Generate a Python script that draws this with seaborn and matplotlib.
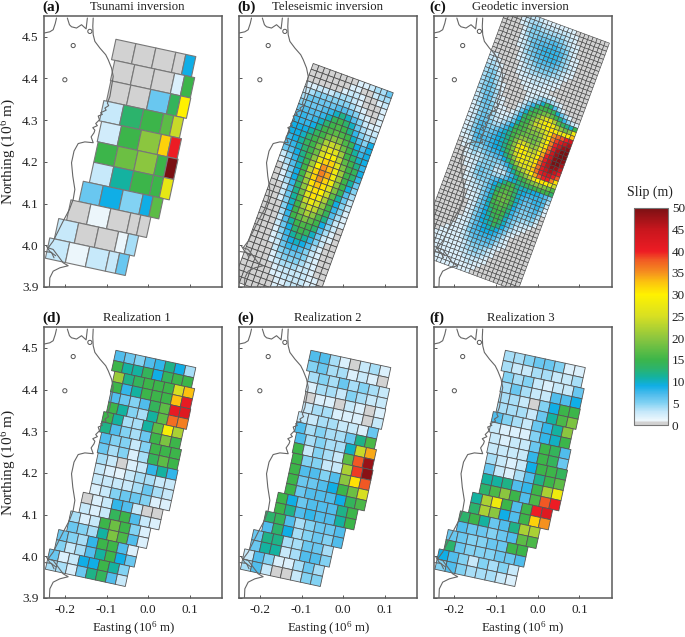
import numpy as np
import matplotlib
matplotlib.use("Agg")
import matplotlib.pyplot as plt
from matplotlib.collections import PolyCollection
from matplotlib.colors import LinearSegmentedColormap, Normalize
from matplotlib.cm import ScalarMappable
import seaborn as sns

titles = ["Tsunami inversion", "Teleseismic inversion", "Geodetic inversion",
          "Realization 1", "Realization 2", "Realization 3"]
letters = ["(a)", "(b)", "(c)", "(d)", "(e)", "(f)"]
x_ticks = [-0.2, -0.1, 0.0, 0.1]
y_ticks = [3.9, 4.0, 4.1, 4.2, 4.3, 4.4, 4.5]
cbar_ticks = list(range(0, 51, 5))

slip_a = [[0,0,0,0,9],[0,0,0,2,15],[0,0,6,14,30],[3,13,15,17,24],[2.5,15,20,32,40],
          [15,18,20,15,50],[3,11,15,15,27],[6,9,5,9,17],[0,1,0,0,0],[3,0,0,1,4],[3,1,3,3,6]]

slip_d = [[7,6,5,7,8,12,9,4],[15,11,11,14,9,14,15,15],[21,12,14,15,15,15,25,33],[15,8,11,15,15,15,33,41],
          [7,6,5,7,14,17,41,42],[15,11,5,4,11,17,37,36],[15,11,4,4,11,17,29,22],[12,7,5,4,6,15,19,15],
          [7,5,5,3,5,15,15,15],[6,4,5,2,4,14,17,15],[4,3,0,2,3,8,11,8],[3,2,1.5,3,4,4,3,3],
          [3,3,3,3,4,6,4,3],[2,3,5,6,6,5,2,2],[0,2,3,8,7,3,0,0],[3,2,3,14,15,7,3,2],
          [4,2,3,15,18,15,5,2],[6,5,4,11,19,16,7,2],[6,5,4,8,15,15,7,2],[5,3,4,7,11,15,9,6],
          [6,2,3,9,9,15,11,5],[4,4,2,6,12,14,7,3]]

slip_e = [[7,7,4,2,0,3,4,2],[5,6,4,4,2,3,2,0],[4,5,4,6,4,5,4,3],[2,4,4,3,5,4,3,3],
          [0,2,2,0,3,2,0,2],[3,4,4,2,2,2,0,3],[3,3,4,4,3,3,2,6],[7,4,5,4,4,6,12,16],
          [7,4,5,4,4,10,24,34],[15,3,5,4,3,17,38,48],[15,5,5,3,3,22,39,49],[15,7,7,5,7,20,31,38],
          [15,6,6,7,9,15,18,25],[15,6,7,7,7,9,14,16],[15,9,6,7,7,7,12,15],[15,12,7,8,7,7,11,15],
          [13,14,7,4,5,6,6,7],[7,13,9,4,5,6,5,7],[6,12,12,4,4,6,6,4],[6,11,11,3,4,7,7,5],
          [3,7,5,2,2,4,6,4],[4,7,3,0,0,3,5,5]]

slip_f = [[4,4,5,6,6,5,2,2],[4,3,3,4,4,3,3,4],[5,4,5,3,2,3,3,6],[4,6,4,3,3,7,7,9],
          [4,4,3,0,5,9,15,15],[4,4,4,3,6,11,16,19],[7,5,4,3,6,8,11,20],[3,2,2,2,5,8,10,15],
          [3,2,3,3,6,15,14,7],[3,3,3,3,8,15,14,6],[4,3,2,3,9,15,15,14],[6,3,2,4,7,12,15,17],
          [11,11,12,7,8,15,22,28],[13,16,20,15,7,16,38,40],[11,22,28,15,7,15,40,42],[13,22,20,9,7,15,32,35],
          [13,15,11,6,7,12,22,22],[7,6,6,5,6,7,17,16],[6,6,5,5,6,6,15,15],[13,6,5,5,5,6,6,7],
          [9,7,5,3,5,4,5,3],[5,7,5,4,4,4,3,2]]

slip_b = [[0,0,0,0,0,0,0,0,2,2,3,4,4,6],[0,0,0,0,0,0,0,2,2,0,0,3,4,4],[0,0,0,0,0,0,2,3,3,2,0,0,2,3],
          [2,2,3,3,3,4,4,4,3,2,0,0,0,2],[3,4,5,5,5,5,5,5,4,3,2,0,0,2],[4,6,6,6,6,6,7,7,6,5,3,2,0,2],
          [5,6,6,6,7,8,10,12,10,7,5,3,2,2],[6,7,7,7,8,10,14,15,13,10,6,4,3,3],[7,8,7,8,10,13,15,16,15,12,8,5,4,4],
          [8,8,8,9,12,15,16,17,16,15,10,7,5,9],[9,9,9,11,14,15,18,20,19,16,14,9,7,9],[9,9,10,13,15,17,22,24,23,18,15,11,8,9],
          [8,9,11,14,15,19,24,27,26,21,15,13,10,9],[7,8,10,13,15,18,25,29,29,23,17,15,12,8],[6,7,9,12,15,20,27,32,32,26,19,15,14,9],
          [3,5,8,11,15,21,30,35,33,28,21,15,13,8],[2,4,7,10,15,23,32,36,34,28,21,15,11,6],[0,3,6,9,15,22,32,35,32,28,20,15,9,5],
          [0,2,5,9,14,21,31,33,31,26,19,14,7,4],[0,2,4,8,13,20,28,31,30,24,17,11,6,3],[0,0,3,7,12,18,26,31,28,22,15,9,5,3],
          [0,0,3,6,11,16,24,28,25,20,15,8,5,2],[0,0,2,5,10,15,21,25,23,18,14,7,4,2],[0,0,0,5,9,15,19,22,20,16,12,6,3,2],
          [0,0,0,4,8,15,17,19,17,15,9,5,3,0],[0,0,0,3,7,11,15,16,15,13,7,4,2,0],[0,0,0,3,6,9,13,15,14,10,6,3,2,0],
          [0,0,0,2,5,8,11,13,11,8,5,3,0,0],[0,0,0,2,4,7,9,10,9,7,4,2,0,0],[0,0,0,2,3,6,8,8,7,5,3,2,0,0],
          [0,0,0,0,3,5,6,6,6,5,3,2,0,0],[0,0,0,0,2,4,5,5,5,4,3,2,0,0],[0,0,0,0,2,3,4,4,4,3,3,2,0,0],
          [0,0,0,0,0,2,3,3,3,3,3,2,2,0],[0,0,0,0,0,2,2,3,3,3,3,2,2,0],[0,0,0,0,0,0,2,2,3,3,3,2,2,2],
          [0,0,0,0,0,0,2,2,2,3,3,2,2,2],[0,0,0,0,0,0,0,2,2,2,2,2,2,2]]

slip_c = [[0,0,0,0,2,3,3,3,3,2,2,2,2,2,2,2,2],[0,0,0,0,2,3,4,4,4,3,3,3,3,3,3,3,2,2],
[0,0,0,0,2,3,4,5,5,4,4,4,4,4,4,3,3,2],[0,0,0,0,0,2,4,5,5,5,5,5,5,5,5,4,3,2,2],
[0,0,0,0,0,2,4,5,5,6,6,6,7,7,6,5,4,3,2],[0,0,0,0,0,2,3,5,6,6,7,7,7,8,7,6,5,3,2],
[0,0,0,0,0,2,3,4,6,7,7,8,8,8,8,7,5,4,2,2],[0,0,0,0,0,2,3,4,5,6,7,8,8,8,8,7,5,4,2,2],
[0,0,0,0,0,0,2,4,5,6,7,7,8,8,8,7,5,4,3,2],[0,0,0,0,0,0,2,3,4,5,6,7,7,7,7,6,5,4,3,2],
[0,0,0,0,0,0,2,3,4,4,5,6,6,6,6,5,4,3,2,2],[2,2,0,0,0,0,0,2,3,4,4,5,5,5,5,4,4,3,2],
[3,3,2,0,0,0,0,2,3,3,4,4,4,4,4,3,3,2],[3,4,3,2,0,0,0,2,2,3,3,3,3,3,3,3,2,2],
[4,4,4,2,0,0,0,0,2,2,2,3,3,3,2,2,2],[4,5,5,3,2,0,0,0,0,2,2,2,2,2,2,2],
[4,5,5,4,2,0,0,0,0,0,2,2,2,2,2,2,2,2],[4,5,6,4,3,2,0,0,0,0,0,2,2,3,4,5,5,4,3,2],
[4,5,6,5,3,2,0,0,0,0,0,2,3,4,6,10,14,12,7,4,2],[4,5,6,5,4,2,0,0,0,0,0,3,5,8,12,15,15,15,14,10,6,4,2],
[3,5,6,6,4,2,2,0,0,0,2,4,7,12,15,16,18,19,17,15,12,8,5,3,2],[3,4,6,6,4,3,2,0,0,0,3,6,10,15,16,19,23,26,27,22,17,14,12,10,15],
[3,4,6,6,5,3,2,2,0,2,4,8,13,15,18,22,26,29,30,28,23,20,18,20,28],[2,4,5,6,5,3,2,2,2,3,5,9,14,15,19,24,25,27,30,31,29,27,28,30,33],
[2,3,5,6,5,4,3,2,3,4,6,11,15,16,19,21,21,23,26,31,35,37,38,40,43],[2,3,5,6,6,4,3,3,4,6,9,14,15,16,18,19,19,21,25,31,36,39,42,45,47],
[2,3,5,6,6,5,4,4,6,8,11,15,16,17,18,18,18,19,24,30,36,40,45,48,49],[2,3,5,7,7,5,5,6,8,10,12,15,17,20,20,19,18,20,25,31,37,42,47,50,50],
[2,3,5,7,7,6,6,7,9,10,12,15,19,24,25,23,20,21,27,33,38,44,48,50,50],[2,3,5,7,7,6,7,8,9,10,12,15,20,27,30,28,23,23,29,34,40,45,49,50,49],
[2,3,4,7,8,7,7,8,9,10,12,15,19,26,30,29,26,25,30,36,41,46,50,50,47],[2,2,3,6,7,6,7,8,9,9,11,14,18,24,29,29,27,26,31,37,42,46,49,48,44],
[0,2,3,5,6,5,6,7,8,8,9,12,15,20,26,28,27,27,32,37,42,45,47,45,41],[0,2,2,4,5,4,5,6,6,7,7,9,12,16,21,25,26,27,33,37,41,43,44,41,38],
[0,0,2,3,4,3,4,5,5,5,5,6,8,11,15,19,22,25,30,34,38,40,40,36,31],[0,0,2,2,3,3,4,5,5,5,4,4,5,8,11,15,17,20,23,27,30,31,30,27,24],
[0,0,0,2,2,3,5,5,5,5,3,3,3,6,8,11,14,15,17,19,20,20,19,18,16],[0,0,0,2,2,3,5,6,5,5,4,4,5,7,9,10,12,13,14,14,15,15,15,15,13],
[0,0,0,0,2,3,5,6,5,5,6,7,9,12,15,15,12,10,10,10,9,9,8,7,5],[0,0,0,0,2,3,4,5,5,5,7,9,12,15,16,16,13,10,9,8,8,8,8,7,4],
[0,0,0,0,2,2,3,4,4,5,7,10,14,16,17,16,13,10,8,7,7,8,8,7,3],[0,0,0,0,0,2,3,3,4,5,7,10,15,17,18,17,14,10,8,6,6,7,8,6,2],
[0,0,0,0,0,2,2,3,3,5,7,10,15,17,18,17,14,10,7,6,6,6,7,5,2],[0,0,0,0,0,0,2,2,3,5,7,10,15,16,17,16,13,9,7,5,5,6,6,4],
[0,0,0,0,0,0,2,2,3,5,7,10,14,15,16,15,12,8,6,5,5,5,5,3],[0,0,0,0,0,0,0,2,3,5,7,9,12,15,15,15,11,8,6,5,4,4,4,2],
[0,0,0,0,0,0,0,2,3,5,7,9,11,14,15,14,10,7,5,4,3,3,2],[0,0,0,0,0,0,0,2,3,5,7,9,10,12,15,13,10,7,5,3,3,2],
[0,0,0,0,0,0,0,2,3,5,7,9,10,11,14,12,9,6,4,3,2],[0,0,0,0,0,0,2,2,3,5,7,8,9,10,11,9,7,5,3,2],
[0,0,0,0,0,0,2,2,3,5,7,8,9,9,9,8,6,4,2],[0,0,0,0,0,2,2,2,3,5,7,7,8,8,8,7,5,3,2],
[0,0,0,0,2,2,2,2,3,4,6,7,7,7,7,6,4,3,2],[0,0,0,2,2,2,2,2,3,4,5,6,6,6,6,5,3,2],
[0,0,2,2,2,2,2,2,2,3,4,5,5,5,4,3,2],[0,0,2,2,2,2,2,2,2,3,4,4,5,4,4,3,2],
[0,0,2,2,2,2,2,2,2,3,3,4,4,4,3,2],[0,2,2,2,2,2,2,2,2,2,3,3,3,3,2,2],
[0,2,2,2,2,2,2,2,2,2,2,3,3,2,2],[0,0,2,2,2,2,2,2,2,2,2,2,2,2],[0,0,0,2,2,2,2,2,2,2,2,2,2]]

coast_x = [[-0.220,-0.223,-0.228,-0.236,-0.250],
           [-0.194,-0.189,-0.184,-0.172,-0.160,-0.149,-0.146],
           [-0.132,-0.133,-0.132,-0.128,-0.116,-0.102,-0.096,-0.088,-0.084,-0.088,-0.092,-0.098,-0.095,-0.104,-0.101,-0.114,-0.110,-0.120,-0.117,-0.126,-0.122,-0.133,-0.128,-0.130,-0.137,-0.132,-0.152,-0.168,-0.178,-0.184,-0.181,-0.176,-0.180,-0.189,-0.204,-0.216,-0.228,-0.240,-0.228,-0.216,-0.204,-0.192,-0.212,-0.228,-0.236,-0.237],
           [-0.244,-0.236,-0.222],[-0.248,-0.232,-0.226]]
coast_y = [[4.545,4.532,4.517,4.512,4.509],
           [4.545,4.529,4.524,4.521,4.529,4.519,4.545],
           [4.545,4.525,4.505,4.489,4.473,4.457,4.445,4.425,4.405,4.381,4.357,4.341,4.335,4.329,4.324,4.318,4.314,4.310,4.301,4.292,4.287,4.282,4.276,4.270,4.260,4.246,4.248,4.244,4.226,4.198,4.166,4.134,4.110,4.086,4.058,4.034,4.010,3.994,3.990,3.974,3.958,3.951,3.946,3.938,3.922,3.900],
           [3.998,3.985,3.975],[3.985,3.983,3.970]]
island_x = [-0.180, -0.200, -0.140]
island_y = [4.479, 4.397, 4.513]

row_offsets = [0, .008, .0092, .0028, .008, .0104, .0104, -.0045, -.024, -.0432, -.0544]

cmap_stops = [(0, "#d2d2d2"), (0.6, "#d2d2d2"), (1, "#eef8fd"), (3, "#c6e8fa"), (5, "#82d2f3"),
              (7, "#4fbcec"), (9, "#10aee6"), (11, "#14b29f"), (13, "#2cb36c"), (15, "#3cb54a"),
              (20, "#8cc63f"), (25, "#d7df23"), (30, "#fff200"), (33, "#fcc10f"), (35, "#f5921e"),
              (38, "#f15a24"), (40, "#ed1c24"), (45, "#c8161d"), (50, "#7a1013")]
cmap = LinearSegmentedColormap.from_list("slip", [(v / 50, c) for v, c in cmap_stops], N=512)
norm = Normalize(0, 50)

sns.set_theme(style="ticks")
plt.rcParams["font.family"] = ["Liberation Serif", "DejaVu Serif"]
plt.rcParams["mathtext.default"] = "regular"
plt.rcParams["mathtext.fontset"] = "custom"
plt.rcParams["mathtext.rm"] = "Liberation Serif"
W, H = 685, 637
fig = plt.figure(figsize=(W / 100, H / 100), dpi=100, facecolor="white")


def fault(ax, values, origin, theta, col_widths, row_height, offsets, edge, lw):
    """Draw one fault plane: rows of cells stepping along strike from origin."""
    t = np.radians(theta)
    u = np.array([np.cos(t), -np.sin(t)])
    v = np.array([-np.sin(t), -np.cos(t)])
    polys, vals = [], []
    for r, row in enumerate(values):
        off = offsets[r] if offsets is not None else 0.0
        left = 0.0
        for c, w in enumerate(col_widths):
            val = row[c] if c < len(row) else 0
            p0 = np.array(origin) + u * (off + left) + v * r * row_height
            polys.append([p0, p0 + u * w, p0 + u * w + v * row_height, p0 + v * row_height])
            vals.append(val)
            left += w
    pc = PolyCollection(polys, array=np.array(vals, float), cmap=cmap, norm=norm,
                        edgecolors=edge, linewidths=lw, zorder=2)
    ax.add_collection(pc)


fine_offsets = [o for o in row_offsets for _ in range(2)]
origin_big = (-0.0775, 4.494)
panels = [
    dict(values=slip_a, origin=origin_big, theta=12.2, col_widths=[.049, .049, .049, .0245, .0245],
         row_height=.0499, offsets=row_offsets, edge="#777777", lw=0.8),
    dict(values=slip_b, origin=(-0.072, 4.436), theta=20.1, col_widths=[.0146] * 14,
         row_height=.0146, offsets=None, edge="#4a4a4a", lw=0.55),
    dict(values=slip_c, origin=(-0.072, 4.575), theta=20.3, col_widths=[.0104] * 25,
         row_height=.0104, offsets=None, edge="#444444", lw=0.42),
    dict(values=slip_d, origin=origin_big, theta=12.2, col_widths=[.0245] * 8,
         row_height=.02495, offsets=fine_offsets, edge="#555555", lw=0.6),
    dict(values=slip_e, origin=origin_big, theta=12.2, col_widths=[.0245] * 8,
         row_height=.02495, offsets=fine_offsets, edge="#555555", lw=0.6),
    dict(values=slip_f, origin=origin_big, theta=12.2, col_widths=[.0245] * 8,
         row_height=.02495, offsets=fine_offsets, edge="#555555", lw=0.6),
]
lefts = [44, 239, 433.5]
tops = [16, 327]
aw, ah = 178, 271
for i, p in enumerate(panels):
    col, row = i % 3, i // 3
    ax = fig.add_axes([lefts[col] / W, 1 - (tops[row] + ah) / H, aw / W, ah / H])
    ax.set_facecolor("white")
    ax.set_xlim(-0.25, -0.25 + aw / 417)
    ax.set_ylim(3.9, 3.9 + ah / 417)
    fault(ax, **p)
    for cx, cy in zip(coast_x, coast_y):
        sns.lineplot(x=cx, y=cy, sort=False, estimator=None, color="#666666", lw=0.8, ax=ax, zorder=3)
    sns.scatterplot(x=island_x, y=island_y, s=9, facecolor="none", edgecolor="#555555", linewidth=0.7, ax=ax, zorder=3)
    ax.set_xticks(x_ticks)
    ax.set_yticks(y_ticks)
    ax.tick_params(direction="in", length=2.5, width=0.7, color="#555555", labelsize=9.5, pad=4,
                   labelleft=col == 0, labelbottom=row == 1, labelcolor="#222222")
    if row == 1:
        ax.set_xticklabels([f"{t:.1f}" for t in x_ticks])
    for s in ax.spines.values():
        s.set_color("#5a5a5a")
        s.set_linewidth(1.1)
    ax.set_xlabel("")
    ax.set_ylabel("")
    fig.text((lefts[col] + aw / 2 + 4 * (col == 0) - 2 * (col == 2)) / W, 1 - (tops[row] - 9) / H, titles[i],
             ha="center", va="center", fontsize=9.2, color="#222222")
    fig.text((lefts[col] + (-2 if col != 2 else -4)) / W, 1 - (tops[row] - 9) / H, letters[i],
             ha="left", va="center", fontsize=11, fontweight="bold", color="#111111")
    if col == 0:
        fig.text(9 / W, 1 - (tops[row] + ah / 2) / H, "Northing (10$^{6}$ m)", rotation=90,
                 ha="center", va="center", fontsize=11, color="#222222")
    if row == 1:
        fig.text((lefts[col] + aw / 2) / W, 1 - 628 / H, "Easting (10$^{6}$ m)",
                 ha="center", va="center", fontsize=9.3, color="#222222")

cax = fig.add_axes([634 / W, 1 - 425 / H, 33.7 / W, 217.3 / H])
cb = fig.colorbar(ScalarMappable(norm=norm, cmap=cmap), cax=cax, ticks=cbar_ticks)
cb.outline.set_edgecolor("#777777")
cb.outline.set_linewidth(0.8)
cax.tick_params(direction="in", length=2.5, width=0.6, color="#555555", left=True, right=True,
                labelsize=9.5, pad=3, labelcolor="#222222")
fig.text(650 / W, 1 - 192 / H, "Slip (m)", ha="center", va="center", fontsize=10, color="#222222")

fig.savefig("out.png", dpi=100)
